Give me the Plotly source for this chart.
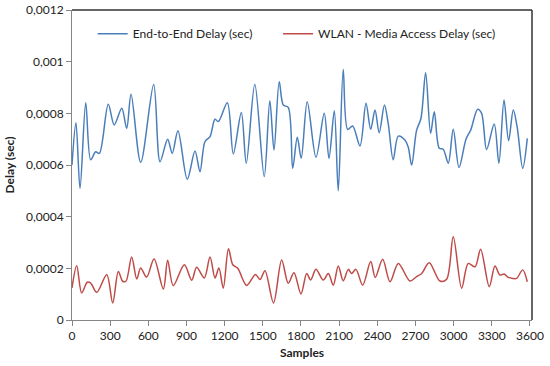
import plotly.graph_objects as go

# --- data ---
e2e_samples = [0, 31, 63, 108, 147, 186, 215, 285, 332, 391, 430, 464, 540, 642, 692, 752, 788, 833,
               906, 967, 1006, 1045, 1085, 1124, 1150, 1221, 1268, 1331, 1370, 1437, 1511, 1555, 1588,
               1629, 1661, 1700, 1735, 1771, 1802, 1849, 1918, 1983, 2020, 2062, 2093, 2132, 2167, 2206,
               2264, 2311, 2348, 2382, 2415, 2456, 2486, 2525, 2565, 2617, 2643, 2670, 2709, 2743, 2780,
               2819, 2848, 2887, 2918, 2958, 2997, 3042, 3097, 3134, 3189, 3220, 3259, 3319, 3356, 3396,
               3432, 3469, 3500, 3543, 3579]
e2e_delay = [0.000600, 0.000764, 0.000510, 0.000841, 0.000620, 0.000651, 0.000645, 0.000835, 0.000755,
             0.000820, 0.000742, 0.000874, 0.000610, 0.000912, 0.000613, 0.000700, 0.000645, 0.000733,
             0.000545, 0.000654, 0.000574, 0.000690, 0.000710, 0.000777, 0.000768, 0.000841, 0.000643,
             0.000803, 0.000607, 0.000913, 0.000555, 0.000849, 0.000658, 0.000922, 0.000832, 0.000823,
             0.000587, 0.000707, 0.000626, 0.000845, 0.000630, 0.000800, 0.000626, 0.000810, 0.000500,
             0.000970, 0.000738, 0.000751, 0.000674, 0.000839, 0.000738, 0.000813, 0.000725, 0.000832,
             0.000760, 0.000620, 0.000712, 0.000697, 0.000670, 0.000600, 0.000735, 0.000780, 0.000957,
             0.000723, 0.000806, 0.000665, 0.000661, 0.000607, 0.000738, 0.000590, 0.000700, 0.000735,
             0.000816, 0.000800, 0.000660, 0.000759, 0.000607, 0.000852, 0.000694, 0.000813, 0.000745,
             0.000587, 0.000703]

wlan_samples = [0, 37, 76, 120, 147, 194, 273, 320, 364, 398, 424, 469, 509, 540, 587, 645, 718, 752, 796,
                883, 941, 980, 1040, 1085, 1124, 1155, 1189, 1230, 1264, 1303, 1373, 1442, 1478, 1517, 1584,
                1648, 1700, 1745, 1800, 1845, 1876, 1918, 1975, 2015, 2054, 2093, 2132, 2172, 2198, 2232,
                2285, 2348, 2384, 2442, 2500, 2565, 2657, 2709, 2749, 2808, 2892, 2945, 2997, 3063, 3115,
                3168, 3212, 3280, 3325, 3364, 3396, 3429, 3464, 3495, 3543, 3579]
wlan_delay = [0.000124, 0.000210, 0.000105, 0.000146, 0.000143, 0.000107, 0.000175, 0.000066, 0.000188,
              0.000150, 0.000150, 0.000244, 0.000159, 0.000201, 0.000166, 0.000236, 0.000120, 0.000231,
              0.000133, 0.000214, 0.000154, 0.000204, 0.000163, 0.000244, 0.000163, 0.000201, 0.000123,
              0.000276, 0.000214, 0.000200, 0.000134, 0.000176, 0.000157, 0.000191, 0.000066, 0.000232,
              0.000142, 0.000183, 0.000101, 0.000180, 0.000155, 0.000196, 0.000155, 0.000180, 0.000135,
              0.000209, 0.000152, 0.000196, 0.000180, 0.000196, 0.000135, 0.000226, 0.000165, 0.000235,
              0.000148, 0.000219, 0.000151, 0.000168, 0.000180, 0.000222, 0.000151, 0.000158, 0.000322,
              0.000123, 0.000219, 0.000206, 0.000274, 0.000129, 0.000209, 0.000174, 0.000178, 0.000165,
              0.000161, 0.000161, 0.000194, 0.000148]

x_ticks = [0, 300, 600, 900, 1200, 1500, 1800, 2100, 2400, 2700, 3000, 3300, 3600]
y_ticks = [0, 0.0002, 0.0004, 0.0006, 0.0008, 0.001, 0.0012]
y_tick_labels = ["0", "0,0002", "0,0004", "0,0006", "0,0008", "0,001", "0,0012"]

FONT = "Lato, 'Open Sans', sans-serif"

fig = go.Figure()
fig.add_trace(go.Scatter(x=e2e_samples, y=e2e_delay, mode="lines",
                         name="End-to-End Delay (sec)", legend="legend",
                         line=dict(color="#4A7EBB", width=1.5, shape="spline", smoothing=0.9)))
fig.add_trace(go.Scatter(x=wlan_samples, y=wlan_delay, mode="lines",
                         name="WLAN - Media Access Delay (sec)", legend="legend2",
                         line=dict(color="#BE4B48", width=1.5, shape="spline", smoothing=0.9)))

legend_common = dict(orientation="h", y=0.97, yanchor="top", xanchor="left",
                     font=dict(size=12, color="#222", family=FONT), bgcolor="rgba(0,0,0,0)",
                     itemwidth=30)

fig.update_layout(
    width=550, height=366,
    margin=dict(l=72, r=18, t=10, b=46, autoexpand=False),
    paper_bgcolor="white", plot_bgcolor="white",
    font=dict(family=FONT, size=12, color="#222"),
    showlegend=True,
    legend=dict(x=0.045, **legend_common),
    legend2=dict(x=0.448, **legend_common),
    xaxis=dict(range=[0, 3616], tickvals=x_ticks, ticktext=[str(v) for v in x_ticks],
               automargin=False,
               showgrid=False, zeroline=False, showline=True, linecolor="#868686", linewidth=1,
               ticks="outside", ticklen=5, tickcolor="#868686",
               tickfont=dict(size=12, family=FONT),
               title=dict(text="<b>Samples</b>", font=dict(size=12, family=FONT), standoff=6)),
    yaxis=dict(range=[0, 0.0012], tickvals=y_ticks, ticktext=y_tick_labels,
               automargin=False,
               showgrid=False, zeroline=False, showline=True, linecolor="#868686", linewidth=1,
               ticks="outside", ticklen=5, tickcolor="#868686",
               tickfont=dict(size=12, family=FONT),
               title=dict(text="<b>Delay (sec)</b>", font=dict(size=12, family=FONT), standoff=8)),
)

# dark plot-area border on top and right
fig.add_shape(type="line", xref="paper", yref="paper", x0=0, x1=1, y0=1, y1=1,
              line=dict(color="#333333", width=1.5))
fig.add_shape(type="line", xref="paper", yref="paper", x0=1, x1=1, y0=0, y1=1,
              line=dict(color="#333333", width=1.5))

fig.write_html("out.html", config={"displayModeBar": False},
               post_script="document.body.style.margin='0';")
